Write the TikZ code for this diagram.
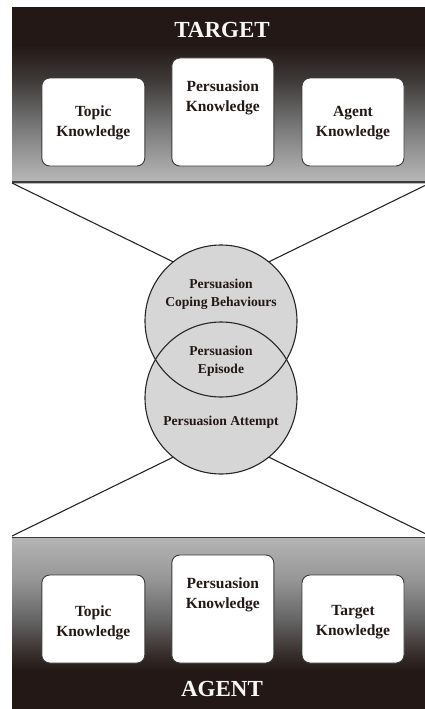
\documentclass[tikz,border=0pt]{standalone}
\usepackage{fontspec}
\setmainfont{Liberation Serif}
\definecolor{ink}{HTML}{231815}
\definecolor{t1}{HTML}{B8B8B8}
\definecolor{t2}{HTML}{A0A0A0}
\definecolor{t3}{HTML}{707070}
\definecolor{t4}{HTML}{3E3A38}
\definecolor{b1}{HTML}{B5B5B5}
\definecolor{b2}{HTML}{959595}
\definecolor{b3}{HTML}{646464}
\definecolor{b4}{HTML}{3C3432}
\definecolor{circgrey}{HTML}{D6D6D6}
\definecolor{edgegrey}{HTML}{3A3A3A}
\tikzset{
  kbox/.style={draw=edgegrey, line width=0.9pt, fill=white, rounded corners=8pt, inner sep=0pt},
  ktext/.style={text=ink, align=center, font=\fontsize{15.5}{20}\selectfont\bfseries, inner sep=0pt},
  ctext/.style={text=ink, align=center, font=\fontsize{13.6}{18}\selectfont\bfseries, inner sep=0pt},
  htext/.style={text=white!94!gray, font=\fontsize{23}{26}\selectfont\bfseries, inner sep=0pt},
  ball/.style={circle, minimum size=152pt, inner sep=0pt, fill=circgrey},
  link/.style={draw=black!85, line width=1.1pt},
}
\begin{document}
\begin{tikzpicture}[x=1pt, y=-1pt]
\useasboundingbox (0,0) rectangle (425,709);
% top panel gradient (segments)
\fill[ink] (12,7) rectangle (425,45.3);
\shade[top color=ink, bottom color=t4] (12,45) rectangle (425,80.3);
\shade[top color=t4, bottom color=t3] (12,80) rectangle (425,120.3);
\shade[top color=t3, bottom color=t2] (12,120) rectangle (425,160.3);
\shade[top color=t2, bottom color=t1] (12,160) rectangle (425,183);
% bottom panel gradient (segments)
\shade[top color=b1, bottom color=b2] (12,537) rectangle (425,580.3);
\shade[top color=b2, bottom color=b3] (12,580) rectangle (425,620.3);
\shade[top color=b3, bottom color=b4] (12,620) rectangle (425,650.3);
\shade[top color=b4, bottom color=ink] (12,650) rectangle (425,670.3);
\fill[ink] (12,670) rectangle (425,709);
\draw[edgegrey, line width=1.5pt] (12,182) -- (425,182);
\draw[edgegrey, line width=1.5pt] (12,537.5) -- (425,537.5);
% headings
\node[htext] (target) at (222,30) {TARGET};
\node[htext] (agent) at (222,689) {AGENT};
% top boxes
\node[kbox, minimum width=103pt, minimum height=88pt] (tt) at (93.3,122) {};
\node[kbox, minimum width=102pt, minimum height=108pt] (tp) at (222.8,112) {};
\node[kbox, minimum width=102pt, minimum height=88pt] (ta) at (353,122) {};
\node[ktext] (ttt) at (93.3,123) {Topic\\Knowledge};
\node[ktext] (tpt) at (222.8,98) {Persuasion\\Knowledge};
\node[ktext] (tat) at (353,123) {Agent\\Knowledge};
% bottom boxes
\node[kbox, minimum width=103pt, minimum height=88pt] (bt) at (93.3,619) {};
\node[kbox, minimum width=102pt, minimum height=108pt] (bp) at (222.8,609) {};
\node[kbox, minimum width=102pt, minimum height=88pt] (bg) at (353,619) {};
\node[ktext] (btt) at (93.3,622.5) {Topic\\Knowledge};
\node[ktext] (bpt) at (222.8,595) {Persuasion\\Knowledge};
\node[ktext] (bgt) at (353,622.5) {Target\\Knowledge};
% circles
\node[ball] (up) at (221,321) {};
\node[ball] (lo) at (221,398) {};
\draw[black!85, line width=1.1pt] (up.center) circle[radius=76pt];
\draw[black!85, line width=1.1pt] (lo.center) circle[radius=76pt];
\node[ctext] (cb) at (221,294) {Persuasion\\Coping Behaviours};
\node[ctext] (ep) at (221,361.5) {Persuasion\\Episode};
\node[ctext] (pa) at (221,422) {Persuasion Attempt};
% connectors
\coordinate (tl) at (12,183);
\coordinate (tr) at (425,185.5);
\coordinate (bl) at (12,536);
\coordinate (br) at (425,533.5);
\draw[link] (tl) -- (up.129);
\draw[link] (tr) -- (up.51);
\draw[link] (bl) -- (lo.231);
\draw[link] (br) -- (lo.309);
\end{tikzpicture}
\end{document}
